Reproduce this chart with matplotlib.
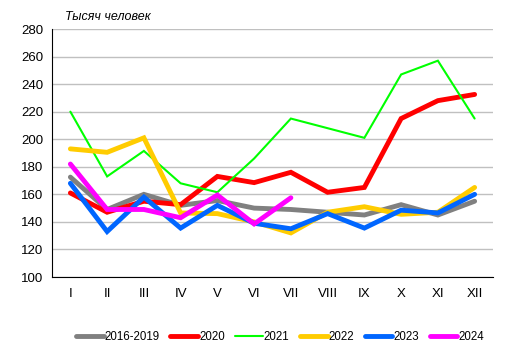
import matplotlib.pyplot as plt

plt.rcParams['font.family'] = ['Liberation Sans', 'DejaVu Sans']

months = ['I', 'II', 'III', 'IV', 'V', 'VI', 'VII', 'VIII', 'IX', 'X', 'XI', 'XII']

avg_2016_2019 = [172.5, 149, 160, 152, 155.5, 150, 149, 147, 145, 152.5, 145, 155]
y2020 = [161, 147, 155, 152.5, 173, 168.5, 176, 161.5, 165, 215, 228, 232.5]
y2021 = [220, 173, 191.5, 168, 161.5, 186, 215, 208, 201, 247, 257, 215]
y2022 = [193, 190.5, 201, 146.5, 146, 140, 132, 147, 151, 145.5, 147, 165]
y2023 = [168, 133, 158, 135.5, 152, 139, 135, 146, 135.5, 148.5, 146.5, 160]
y2024 = [182, 149, 149, 143, 159.5, 138.5, 157.5]

series = [
    ('2016-2019', avg_2016_2019, '#808080', 3.5),
    ('2020', y2020, '#ff0000', 3.5),
    ('2021', y2021, '#00ff00', 1.5),
    ('2022', y2022, '#ffcc00', 3.5),
    ('2023', y2023, '#0066ff', 3.5),
    ('2024', y2024, '#ff00ff', 3.5),
]

fig = plt.figure(figsize=(5.14, 3.57), dpi=100)
ax = fig.add_axes([52 / 514, 1 - 277 / 357, 441 / 514, 248 / 357])

for name, vals, color, lw in series:
    ax.plot(range(len(vals)), vals, color=color, lw=lw, label=name,
            solid_capstyle='round', solid_joinstyle='miter')

ax.set_xlim(-0.5, 11.5)
ax.set_ylim(100, 280)
ax.set_yticks(range(100, 281, 20))
ax.set_xticks(range(12))
ax.set_xticklabels(months)
ax.tick_params(length=0, labelsize=9.5, pad=8)
ax.tick_params(axis='y', pad=6)
ax.yaxis.grid(True, color='#c0c0c0', lw=1)
ax.set_axisbelow(True)
for s in ['top', 'right']:
    ax.spines[s].set_visible(False)
ax.spines['left'].set_color('black')
ax.spines['bottom'].set_color('black')

fig.text(65 / 514, 1 - 17 / 357, 'Тысяч человек', fontsize=9, style='italic', va='center')

fig.legend(loc='center', bbox_to_anchor=(280 / 514, 1 - 337 / 357), ncol=6, frameon=False,
           fontsize=8.3, handlelength=2.4, handletextpad=0.1, columnspacing=0.9)

fig.savefig('out.png', dpi=100)
